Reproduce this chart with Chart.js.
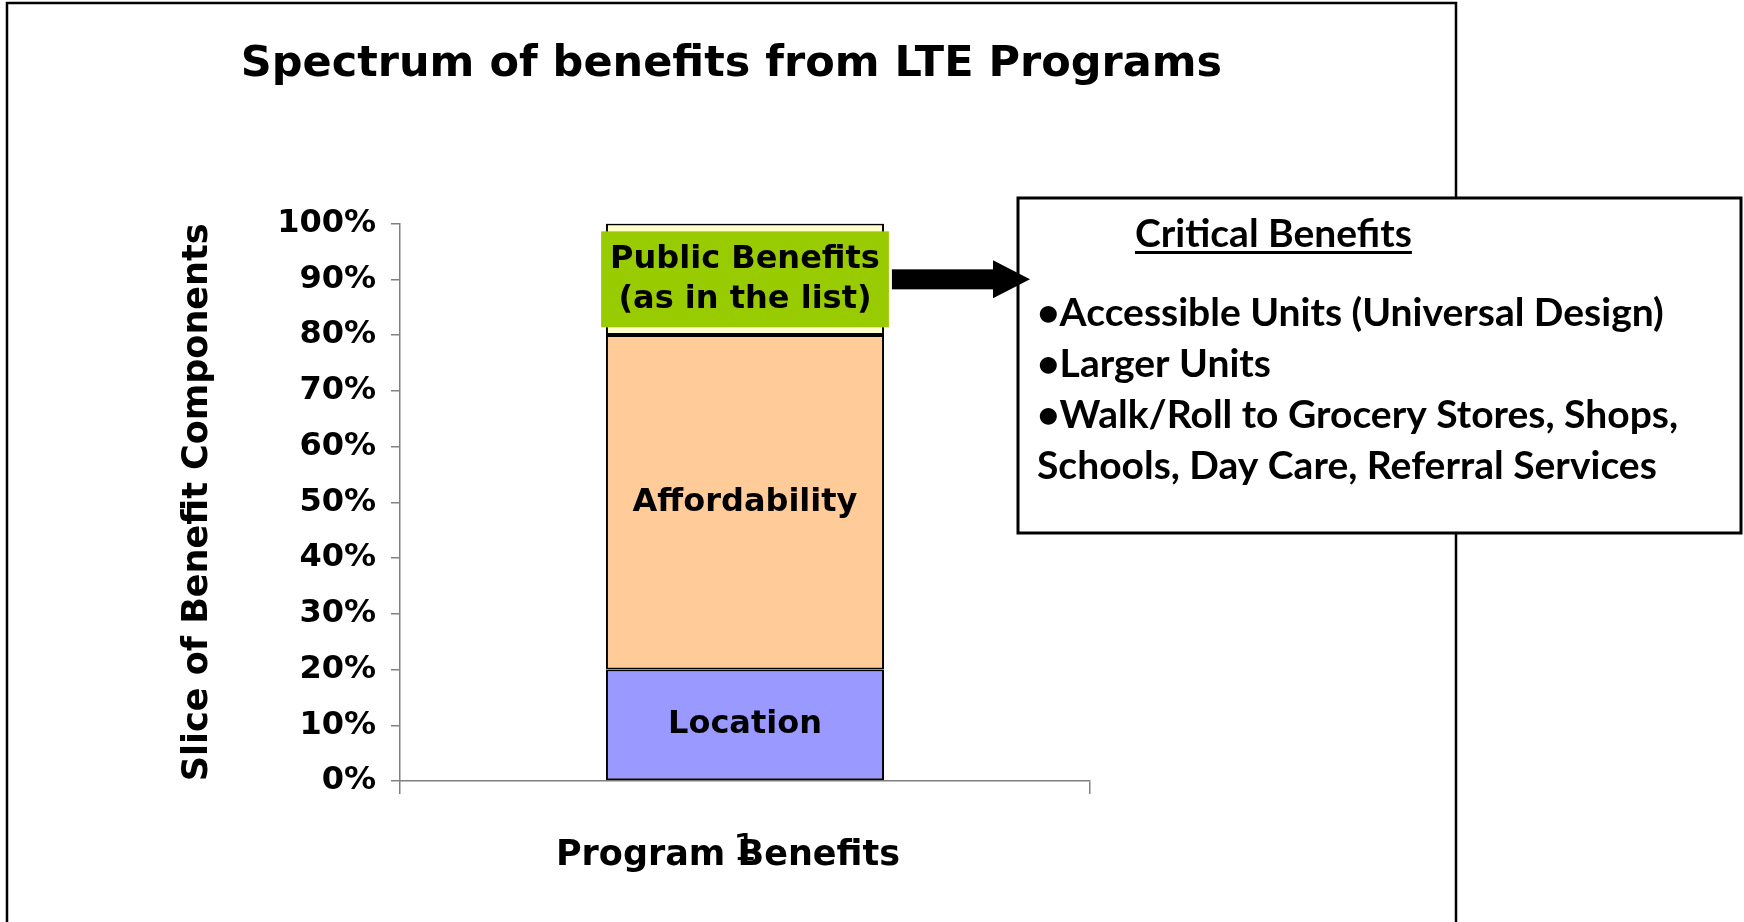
<!DOCTYPE html>
<html>
<head>
<meta charset="utf-8">
<title>Spectrum of benefits from LTE Programs</title>
<script src="https://cdn.jsdelivr.net/npm/chart.js@4.4.0/dist/chart.umd.min.js"></script>
<style>
    html, body { margin: 0; padding: 0; background: #fff; }
    #wrap { position: relative; width: 1744px; height: 922px; }
</style>
</head>
<body>
<div id="wrap"><canvas id="benefitChart" width="1744" height="922"></canvas></div>
<script>
// chart data
const categories = ['1'];
const seriesNames = ['Location', 'Affordability', 'Public Benefits'];
const locationShare = [20];
const affordabilityShare = [60];
const publicShare = [20];
const segmentLabels = [['Location'], ['Affordability'], ['Public Benefits', '(as in the list)']];
const seriesColors = ['#9999FF', '#FFCC99', '#FFFFCC'];
const xTitle = 'Program Benefits';

// the call-out box on the right
const boxTitle = 'Critical Benefits';
const boxLines = [
    '\u2022Accessible Units (Universal Design)',
    '\u2022Larger Units',
    '\u2022Walk/Roll to Grocery Stores, Shops,',
    'Schools, Day Care, Referral Services'
];

const FONT = "'DejaVu Sans', Verdana, sans-serif";
const BOX_FONT = "Lato, 'Open Sans', sans-serif";

// outer frame of the chart object (no bottom edge, it runs past the page)
const framePlugin = {
    id: 'frame',
    beforeDraw(chart) {
        const ctx = chart.ctx;
        ctx.save();
        ctx.fillStyle = '#fff';
        ctx.fillRect(0, 0, chart.width, chart.height);
        ctx.strokeStyle = '#000';
        ctx.lineWidth = 2.5;
        ctx.strokeRect(7, 3, 1449, chart.height + 20);
        ctx.restore();
    }
};

// labels inside the stacked segments
const segmentLabelPlugin = {
    id: 'segmentLabels',
    afterDatasetsDraw(chart) {
        const ctx = chart.ctx;
        ctx.save();
        ctx.textAlign = 'center';
        ctx.textBaseline = 'middle';
        chart.data.datasets.forEach((ds, i) => {
            const bar = chart.getDatasetMeta(i).data[0];
            const lines = segmentLabels[i];
            const cx = bar.x;
            const cy = (bar.y + bar.base) / 2;
            ctx.font = 'bold 32px ' + FONT;
            if (lines.length > 1) {
                const w = Math.max(...lines.map(l => ctx.measureText(l).width)) + 18;
                const h = lines.length * 40 + 16;
                ctx.fillStyle = '#99CC00';
                ctx.fillRect(cx - w / 2, cy - h / 2, w, h);
                chart.$calloutStart = { x: cx + w / 2 + 3, y: cy };
            }
            ctx.fillStyle = '#000';
            lines.forEach((l, j) => {
                ctx.fillText(l, cx, cy + (j - (lines.length - 1) / 2) * 40);
            });
        });

        // x axis title, sits a little left of the category centre as in the original
        const area = chart.chartArea;
        ctx.font = 'bold 35px ' + FONT;
        ctx.fillText(xTitle, (area.left + area.right) / 2 - 17, 856);
        ctx.restore();
    }
};

// call-out box and arrow
const calloutPlugin = {
    id: 'callout',
    afterDraw(chart) {
        const ctx = chart.ctx;
        const bx = 1018, by = 198, bw = 723, bh = 335;
        ctx.save();
        ctx.fillStyle = '#fff';
        ctx.fillRect(bx, by, bw, bh);
        ctx.strokeStyle = '#000';
        ctx.lineWidth = 3;
        ctx.strokeRect(bx, by, bw, bh);

        ctx.fillStyle = '#000';
        ctx.textBaseline = 'alphabetic';
        ctx.textAlign = 'left';
        ctx.font = 'bold 39px ' + BOX_FONT;
        // heading, underlined
        ctx.fillText(boxTitle, 1135, 247);
        const tw = ctx.measureText(boxTitle).width;
        ctx.fillRect(1135, 251, tw, 3);

        boxLines.forEach((line, i) => {
            ctx.fillText(line, 1037, 326 + i * 51);
        });

        // arrow from the green label to the box
        const start = chart.$calloutStart;
        if (start) {
            const tipX = bx + 12;
            const headX = tipX - 37;
            ctx.fillRect(start.x, start.y - 10, headX - start.x, 20);
            ctx.beginPath();
            ctx.moveTo(headX, start.y - 19);
            ctx.lineTo(tipX, start.y);
            ctx.lineTo(headX, start.y + 19);
            ctx.closePath();
            ctx.fill();
        }
        ctx.restore();
    }
};

const shares = [locationShare, affordabilityShare, publicShare];

new Chart('benefitChart', {
    type: 'bar',
    data: {
        labels: categories,
        datasets: seriesNames.map((name, i) => ({
            label: name,
            data: shares[i],
            backgroundColor: seriesColors[i],
            borderColor: '#000',
            borderWidth: 2,
            borderSkipped: false,
            barPercentage: 0.403,
            categoryPercentage: 1.0
        }))
    },
    options: {
        responsive: false,
        animation: false,
        layout: { padding: { left: 8, right: 289, top: 3, bottom: 0 } },
        plugins: {
            legend: { display: false },
            tooltip: { enabled: false },
            title: {
                display: true,
                text: 'Spectrum of benefits from LTE Programs',
                color: '#000',
                font: { family: FONT, size: 43, weight: 'bold' },
                padding: { top: 36, bottom: 133 }
            }
        },
        scales: {
            x: {
                stacked: true,
                offset: true,
                grid: { offset: true, drawOnChartArea: false, tickLength: 13, color: '#808080', lineWidth: 1.5 },
                border: { color: '#808080', width: 1.5 },
                ticks: { color: '#000', font: { family: FONT, size: 38 }, padding: 33 },
                afterFit: scale => { scale.height = 141; }
            },
            y: {
                stacked: true,
                min: 0,
                max: 100,
                grid: { drawOnChartArea: false, tickLength: 9, color: '#808080', lineWidth: 1.5 },
                border: { color: '#808080', width: 1.5 },
                ticks: {
                    stepSize: 10,
                    color: '#000',
                    font: { family: FONT, size: 32, weight: 'bold' },
                    padding: 15,
                    callback: v => v + '%'
                },
                title: {
                    display: true,
                    text: 'Slice of Benefit Components',
                    color: '#000',
                    font: { family: FONT, size: 35, weight: 'bold' },
                    padding: { top: 169, bottom: 0 }
                },
                afterFit: scale => { scale.width = 392; }
            },
            // empty space to the right of the plot, inside the frame
            spacer: {
                type: 'linear',
                position: 'right',
                display: true,
                grid: { display: false },
                border: { display: false },
                ticks: { display: false },
                afterFit: scale => { scale.width = 365; }
            }
        }
    },
    plugins: [framePlugin, segmentLabelPlugin, calloutPlugin]
});
</script>
</body>
</html>
